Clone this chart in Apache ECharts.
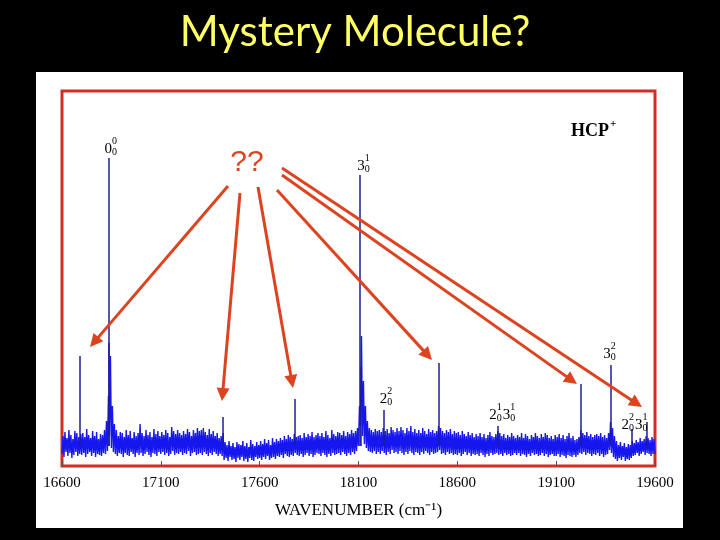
<!DOCTYPE html>
<html><head><meta charset="utf-8">
<script src="https://cdn.jsdelivr.net/npm/echarts@6/dist/echarts.min.js"></script>
<style>html,body{margin:0;padding:0;background:#000;}#c{width:720px;height:540px;}</style>
</head><body><div id="c"></div>
<script>
// ---- data (intensity in arbitrary units, 0 = bottom of plot) ----
const xTicks = [16600, 17100, 17600, 18100, 18600, 19100, 19600];
const noiseStart = 16600;
const noiseStep = 10;
// upper envelope of the noisy baseline in each 10 cm-1 bin
const noiseHigh = [
  30,34,28,36,31,27,35,33,29,32,
  33,29,37,31,28,35,30,34,27,32,
  31,36,45,70,110,60,42,36,30,34,
  33,29,36,31,35,28,34,30,33,42,
  33,30,36,31,34,29,37,32,35,30,
  34,31,36,33,29,39,35,32,36,33,
  31,35,32,37,34,30,36,33,38,35,
  36,38,34,31,37,32,35,30,33,28,
  30,33,24,21,25,20,23,19,24,22,
  21,25,20,23,19,26,22,20,24,21,
  25,22,27,23,26,21,28,24,27,25,
  28,26,30,27,31,29,27,32,29,30,
  31,28,33,29,32,30,34,29,31,33,
  30,33,29,35,31,28,36,32,30,34,
  33,31,35,30,34,32,36,33,35,38,
  60,130,85,60,45,38,36,34,37,35,
  36,34,38,35,37,33,39,36,34,38,
  35,39,36,33,38,35,40,34,37,33,
  36,33,38,35,32,37,34,36,33,35,
  40,38,35,33,36,34,37,32,35,33,
  34,31,35,32,30,34,31,33,29,32,
  30,33,29,32,28,31,34,30,29,32,
  35,33,30,32,28,31,29,33,30,28,
  31,29,33,28,32,30,27,31,29,33,
  30,28,32,29,33,31,28,30,27,31,
  29,32,28,31,27,30,33,28,30,26,
  27,29,36,33,31,34,30,32,29,31,
  32,30,33,29,31,28,33,44,38,30,
  25,21,24,20,23,19,22,21,25,23,
  26,24,28,25,27,30,28,26,29,27,
  27
];
// lower envelope of the noisy baseline in each 10 cm-1 bin
const noiseLow = [
  12,9,14,10,13,8,11,14,10,12,
  11,13,9,12,14,10,13,9,12,11,
  10,13,12,15,30,18,14,12,10,13,
  12,9,13,11,10,14,12,9,13,11,
  13,10,12,14,11,9,13,12,10,14,
  12,14,11,13,10,12,15,11,13,12,
  14,11,13,12,15,10,13,14,11,12,
  13,11,14,12,10,13,11,14,12,10,
  12,10,6,8,5,9,6,7,4,8,
  6,9,5,7,4,8,6,5,9,7,
  8,6,9,7,10,6,8,9,7,10,
  9,11,8,12,10,9,11,10,13,11,
  10,12,9,11,13,10,12,9,11,13,
  12,10,13,11,9,12,10,13,11,12,
  13,11,14,12,10,13,11,14,12,15,
  20,40,30,22,18,15,14,13,15,12,
  14,12,15,13,11,14,12,16,13,14,
  12,15,13,11,14,12,15,13,11,14,
  13,11,14,12,15,13,11,14,12,13,
  14,16,12,13,11,14,12,13,11,12,
  11,13,10,12,14,11,13,10,12,11,
  12,10,13,11,9,12,10,13,11,12,
  13,11,12,10,13,11,12,10,11,13,
  11,13,10,12,11,9,12,10,13,11,
  12,10,11,13,10,12,9,11,12,10,
  10,12,9,11,10,8,11,10,9,11,
  9,11,13,12,14,11,13,12,10,12,
  11,13,10,12,9,11,12,16,13,9,
  7,5,8,6,9,5,7,6,8,10,
  11,13,10,12,14,11,13,12,10,12,
  12
];
// sharp lines
const peakPositions = [16691, 16834, 16838, 17411, 17776, 18108, 18113, 18227, 18506, 18805, 19225, 19377, 19484, 19560];
const peakHeights   = [110,   308,   123,   49,    67,    291,   99,    56,    103,   40,    82,    101,   37,    44];
const peakFoot = 20;

// peak assignments: [base, superscript, subscript] terms
const labelPeaks = [16834, 18108, 18227, 18805, 19377, 19484];
const labelTerms = [
  [['0','0','0']],
  [['3','1','0']],
  [['2','2','0']],
  [['2','1','0'],['3','1','0']],
  [['3','2','0']],
  [['2','2','0'],['3','1','0']]
];
const labelOffsets = [[3,-4],[4,-4],[3,-6],[5,-6],[-1,-6],[3,1]];

// arrows from "??" (pixel annotations)
const arrows = [
  [228,186, 90,347],
  [240,193, 222,401],
  [258,187, 293,388],
  [277,190, 432,360],
  [282,175, 577,384],
  [282,168, 642,407]
];

const bandPoints = [];
noiseHigh.forEach((hi,i)=>{
  const x = noiseStart + i*noiseStep;
  bandPoints.push([x, noiseLow[i]]);
  if (i < noiseHigh.length-1) bandPoints.push([x + noiseStep/2, hi]);
});
const peakLines = peakPositions.map((p,i)=>[{coord:[p,peakFoot]},{coord:[p,peakHeights[i]]}]);

const chart = echarts.init(document.getElementById('c'), null, {renderer:'canvas'});
const serif = '"Liberation Serif","Times New Roman",serif';
const arrowColor = '#dc4420';

chart.setOption({
  animation:false,
  backgroundColor:'#000',
  grid:{left:62,right:65,top:91,bottom:74,show:true,borderColor:'#d22d25',borderWidth:3,backgroundColor:'transparent'},
  xAxis:{type:'value',min:xTicks[0],max:xTicks[xTicks.length-1],interval:500,
    axisLine:{show:false},
    axisTick:{show:true,inside:true,length:5,lineStyle:{color:'#555',width:1}},
    splitLine:{show:false},
    axisLabel:{color:'#000',fontFamily:serif,fontSize:15,margin:10,formatter:v=>String(v)},
    name:'WAVENUMBER (cm\u207B\u00B9)',nameLocation:'middle',nameGap:36,
    nameTextStyle:{color:'#000',fontFamily:serif,fontSize:17}},
  yAxis:{type:'value',min:0,max:375,show:false},
  series:[{type:'line',data:bandPoints,showSymbol:false,symbol:'none',sampling:null,
    lineStyle:{color:'#1616ee',width:1.4},z:3,
    markLine:{silent:true,symbol:['none','none'],label:{show:false},animation:false,
      lineStyle:{color:'#1c1c9a',width:1.5,type:'solid'},data:peakLines}}]
});

const g = [];
g.push({type:'rect',z:-10,shape:{x:36,y:72,width:647,height:456},style:{fill:'#fff'}});
g.push({type:'text',z:100,style:{text:'Mystery Molecule?',x:355,y:32,textAlign:'center',textVerticalAlign:'middle',
  font:'normal 42px Lato, "Open Sans", sans-serif',fill:'#ffff66'}});
g.push({type:'text',z:100,style:{text:'HCP',x:571,y:131,textAlign:'left',textVerticalAlign:'middle',font:'bold 18px '+serif,fill:'#000'}});
g.push({type:'text',z:100,style:{text:'+',x:610,y:124,textAlign:'left',textVerticalAlign:'middle',font:'bold 11px '+serif,fill:'#000'}});
g.push({type:'text',z:100,style:{text:'??',x:247,y:163,textAlign:'center',textVerticalAlign:'middle',font:'normal 30px "Liberation Sans", Arial, sans-serif',fill:arrowColor}});

arrows.forEach(a=>{
  const [x1,y1,x2,y2]=a; const dx=x2-x1, dy=y2-y1, L=Math.hypot(dx,dy);
  const ux=dx/L, uy=dy/L, hl=13, hw=6.5;
  const bx=x2-ux*hl, by=y2-uy*hl;
  g.push({type:'line',z:90,shape:{x1,y1,x2:bx+ux*2,y2:by+uy*2},style:{stroke:arrowColor,lineWidth:3}});
  g.push({type:'polygon',z:90,shape:{points:[[x2,y2],[bx-uy*hw,by+ux*hw],[bx+uy*hw,by-ux*hw]]},style:{fill:arrowColor}});
});

labelPeaks.forEach((p,i)=>{
  const h = peakHeights[peakPositions.indexOf(p)];
  const px = chart.convertToPixel({xAxisIndex:0,yAxisIndex:0},[p,h]);
  const terms = labelTerms[i];
  const tw = 13.5;
  const total = terms.length*tw;
  let x = px[0] + labelOffsets[i][0] - total/2;
  const base = px[1] + labelOffsets[i][1];
  terms.forEach(t=>{
    g.push({type:'text',z:100,style:{text:t[0],x:x,y:base-5,textAlign:'left',textVerticalAlign:'middle',font:'15px '+serif,fill:'#000'}});
    g.push({type:'text',z:100,style:{text:t[1],x:x+7.5,y:base-13,textAlign:'left',textVerticalAlign:'middle',font:'10px '+serif,fill:'#000'}});
    g.push({type:'text',z:100,style:{text:t[2],x:x+7.5,y:base-1.5,textAlign:'left',textVerticalAlign:'middle',font:'10px '+serif,fill:'#000'}});
    x += tw;
  });
});
chart.setOption({graphic:{elements:g}});
</script></body></html>
